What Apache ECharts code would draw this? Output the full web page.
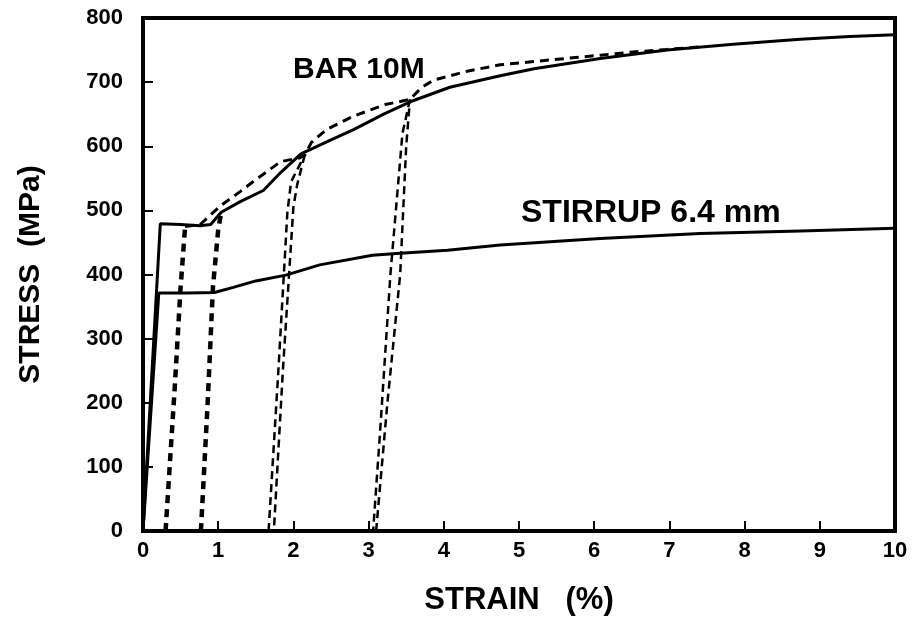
<!DOCTYPE html>
<html>
<head>
<meta charset="utf-8">
<script src="https://cdn.jsdelivr.net/npm/echarts@6/dist/echarts.min.js"></script>
<style>
  html, body { margin: 0; padding: 0; background: #fff; }
  #chart { width: 918px; height: 622px; }
</style>
</head>
<body>
<div id="chart"></div>
<script>
// BAR 10M monotonic curve (solid)
var barStrain = [0, 0.23, 0.5, 0.76, 0.9, 1.04, 1.3, 1.6, 1.83, 2.1, 2.5, 2.8, 3.2, 3.59, 4.08, 4.75, 5.2, 6.08, 6.97, 7.85, 8.74, 9.4, 10];
var barStress = [0, 479, 478, 476, 478, 497, 514, 531, 559, 588, 610, 626, 650, 671, 692, 710, 721, 737, 750, 759, 767, 771, 774];

// BAR 10M cyclic envelope (dashed)
var envStrain = [0.56, 0.76, 0.9, 1.04, 1.3, 1.5, 1.83, 2.09, 2.15, 2.24, 2.44, 2.8, 3.22, 3.55, 3.7, 3.86, 4.31, 4.75, 5.19, 5.63, 6.08, 6.52, 6.97, 7.4];
var envStress = [475, 478, 493, 508, 530, 548, 576, 582, 586, 606, 626, 647, 665, 673, 691, 703, 717, 727, 732, 737, 742, 747, 751, 755];

// unloading / reloading branches
var loop1Strain = [0.3, 0.42, 0.5, 0.56];
var loop1Stress = [0, 220, 380, 475];
var loop2Strain = [0.77, 0.86, 0.93, 1.0, 1.04];
var loop2Stress = [0, 200, 380, 470, 497];
var loop3aStrain = [2.15, 2.05, 2.0, 1.86, 1.74];
var loop3aStress = [586, 540, 505, 250, 0];
var loop3bStrain = [1.67, 1.8, 1.92, 1.97, 2.15];
var loop3bStress = [0, 250, 497, 545, 586];
var loop4aStrain = [3.55, 3.45, 3.29, 3.15, 3.06];
var loop4aStress = [673, 620, 400, 150, 0];
var loop4bStrain = [3.1, 3.25, 3.42, 3.5, 3.55];
var loop4bStress = [0, 200, 400, 600, 673];

// STIRRUP 6.4 mm (solid)
var stStrain = [0, 0.21, 0.6, 0.95, 1.2, 1.5, 1.9, 2.35, 3.05, 3.42, 4.05, 4.75, 6.08, 7.41, 8.74, 10];
var stStress = [0, 371, 371, 372, 380, 390, 399, 415, 430, 433, 438, 446, 456, 464, 468, 472];

function pairs(xs, ys) {
    var out = [];
    for (var i = 0; i < xs.length; i++) out.push([xs[i], ys[i]]);
    return out;
}

var fontFam = '"Liberation Sans", Arial, sans-serif';

function lineSeries(xs, ys, type, width, dash) {
    return {
        type: 'line',
        data: pairs(xs, ys),
        showSymbol: false,
        symbol: 'none',
        silent: true,
        lineStyle: {
            color: '#000',
            width: width,
            type: type === 'dashed' ? dash : 'solid'
        },
        z: 3
    };
}

var chart = echarts.init(document.getElementById('chart'));
chart.setOption({
    animation: false,
    backgroundColor: '#fff',
    grid: {
        left: 143,
        right: 23,
        top: 18,
        bottom: 91,
        show: true,
        borderColor: '#000',
        borderWidth: 4
    },
    xAxis: {
        type: 'value',
        min: 0,
        max: 10,
        interval: 1,
        name: 'STRAIN   (%)',
        nameLocation: 'middle',
        nameGap: 54,
        nameTextStyle: { fontFamily: fontFam, fontWeight: 'bold', fontSize: 31, color: '#000' },
        axisLine: { lineStyle: { color: '#000', width: 4 } },
        axisTick: { inside: true, length: 10, lineStyle: { color: '#000', width: 2 } },
        axisLabel: { margin: 9, fontFamily: fontFam, fontWeight: 'bold', fontSize: 22, color: '#000' },
        splitLine: { show: false }
    },
    yAxis: {
        type: 'value',
        min: 0,
        max: 800,
        interval: 100,
        name: 'STRESS  (MPa)',
        nameLocation: 'middle',
        nameGap: 97,
        nameRotate: 90,
        nameTextStyle: { fontFamily: fontFam, fontWeight: 'bold', fontSize: 30, color: '#000' },
        axisLine: { lineStyle: { color: '#000', width: 4 } },
        axisTick: { inside: true, length: 10, lineStyle: { color: '#000', width: 2 } },
        axisLabel: { margin: 20, fontFamily: fontFam, fontWeight: 'bold', fontSize: 22, color: '#000' },
        splitLine: { show: false }
    },
    graphic: [
        {
            type: 'text', left: 293, top: 55,
            style: { text: 'BAR 10M', font: 'bold 30px "Liberation Sans", Arial, sans-serif', fill: '#000' }
        },
        {
            type: 'text', left: 521, top: 197,
            style: { text: 'STIRRUP 6.4 mm', font: 'bold 32px "Liberation Sans", Arial, sans-serif', fill: '#000' }
        }
    ],
    series: [
        lineSeries(barStrain, barStress, 'solid', 3),
        lineSeries(stStrain, stStress, 'solid', 3),
        lineSeries(envStrain, envStress, 'dashed', 3, [9, 6]),
        lineSeries(loop1Strain, loop1Stress, 'dashed', 4.5, [8, 6]),
        lineSeries(loop2Strain, loop2Stress, 'dashed', 4.5, [8, 6]),
        lineSeries(loop3aStrain, loop3aStress, 'dashed', 2.5, [8, 5]),
        lineSeries(loop3bStrain, loop3bStress, 'dashed', 2.5, [8, 5]),
        lineSeries(loop4aStrain, loop4aStress, 'dashed', 2.5, [8, 5]),
        lineSeries(loop4bStrain, loop4bStress, 'dashed', 2.5, [8, 5])
    ]
});
</script>
</body>
</html>
